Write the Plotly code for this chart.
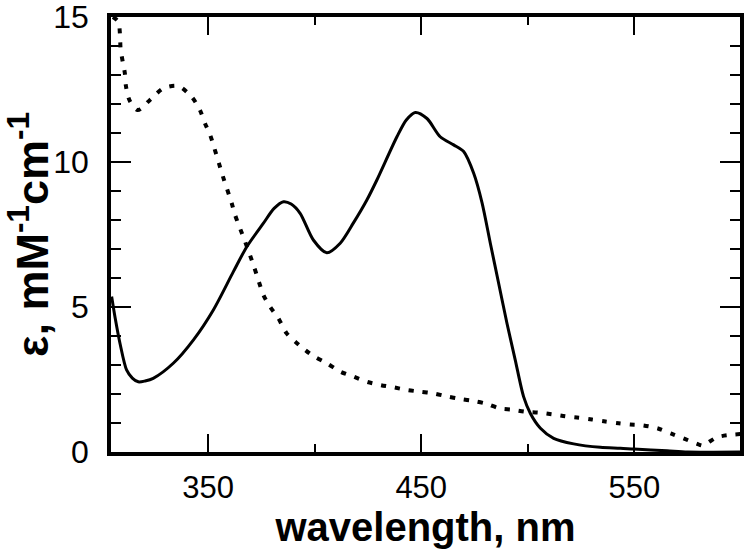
import plotly.graph_objects as go

# Solid curve (wavelength nm, epsilon mM^-1 cm^-1)
solid_wl = [304.8, 306.5, 308.7, 311.8, 314.5, 317.3, 320.5, 324.3, 333.7, 343.1,
            352.5, 361.9, 368.2, 376.0, 381.0, 385.4, 389.0, 393.2, 399.4, 405.7,
            412.0, 418.2, 424.5, 429.2, 438.6, 443.0, 447.2, 452.7, 458.9, 465.2,
            469.9, 474.6, 478.5, 482.4, 486.3, 490.2, 494.1, 498.0, 501.2, 505.9,
            512.1, 521.5, 534.0, 543.4, 549.7, 565.3, 575.0, 600.0]
solid_eps = [5.36, 4.6, 3.75, 2.83, 2.55, 2.42, 2.45, 2.54, 3.06, 3.86,
             4.9, 6.22, 7.08, 7.89, 8.4, 8.63, 8.55, 8.23, 7.31, 6.87,
             7.2, 7.9, 8.69, 9.38, 10.87, 11.45, 11.71, 11.5, 10.87, 10.59,
             10.36, 9.61, 8.6, 7.2, 5.82, 4.44, 3.17, 1.91, 1.33, 0.82,
             0.47, 0.28, 0.16, 0.13, 0.1, 0.04, 0.0, 0.0]

# Dashed curve
dash_wl = [305.4, 307.9, 308.7, 309.0, 310.0, 311.0, 311.5, 313.1, 317.0, 322.8,
           329.0, 336.0, 342.3, 346.2, 348.6, 351.0, 353.0, 357.0, 361.1, 362.7,
           367.4, 371.3, 373.6, 376.0, 379.1, 383.0, 386.9, 392.7, 399.4, 405.7,
           412.0, 418.2, 424.5, 430.8, 437.0, 443.3, 449.5, 455.8, 462.0, 468.3,
           474.6, 480.8, 486.8, 492.6, 498.8, 505.1, 511.4, 517.6, 523.9, 530.1,
           536.4, 542.6, 548.0, 552.8, 560.7, 567.0, 573.0, 579.4, 582.0, 584.0,
           588.8, 595.0, 600.0]
dash_eps = [15.0, 14.84, 14.4, 13.9, 13.46, 13.06, 12.62, 12.14, 11.79, 12.14,
            12.54, 12.62, 12.25, 11.79, 11.33, 10.93, 10.47, 9.5, 8.58, 8.17,
            7.25, 6.45, 5.93, 5.41, 5.01, 4.61, 4.09, 3.69, 3.31, 3.06,
            2.77, 2.6, 2.42, 2.31, 2.23, 2.14, 2.08, 2.02, 1.92, 1.83,
            1.76, 1.66, 1.5, 1.46, 1.39, 1.36, 1.3, 1.23, 1.18, 1.12,
            1.05, 0.99, 0.95, 0.93, 0.82, 0.64, 0.47, 0.28, 0.22, 0.3,
            0.51, 0.59, 0.62]

x_ticks = [350, 450, 550]
y_ticks = [0, 5, 10, 15]

fig = go.Figure()
fig.add_trace(go.Scatter(x=dash_wl, y=dash_eps, mode="lines",
                         line=dict(color="black", width=4, dash="5px,9px", shape="spline", smoothing=0.8),
                         showlegend=False))
fig.add_trace(go.Scatter(x=solid_wl, y=solid_eps, mode="lines",
                         line=dict(color="black", width=3, shape="spline", smoothing=0.8),
                         showlegend=False))

font_family = "Liberation Sans, Arial, Helvetica, sans-serif"
fig.update_layout(
    width=745, height=555,
    margin=dict(l=111, r=5, t=17, b=103, pad=0, autoexpand=False),
    paper_bgcolor="white", plot_bgcolor="white",
    font=dict(family=font_family, color="black", size=31),
)
fig.update_xaxes(
    automargin=False,
    range=[304.5, 599.5], tickvals=x_ticks, ticktext=[str(v) for v in x_ticks],
    ticks="inside", ticklen=18, tickwidth=2, tickcolor="black",
    minor=dict(ticks="inside", tickvals=[400, 500], ticklen=8, tickwidth=2, tickcolor="black"),
    showline=True, linewidth=3.5, linecolor="black", mirror="ticks",
    showgrid=False, zeroline=False,
    tickfont=dict(size=31), ticklabelstandoff=5, ticklabeloverflow="allow",
    title=dict(text="wavelength, nm", font=dict(size=40, weight="bold"), standoff=7),
)
fig.update_yaxes(
    automargin=False,
    range=[0, 15], tickvals=y_ticks, ticktext=[str(v) for v in y_ticks],
    ticks="inside", ticklen=20, tickwidth=2, tickcolor="black",
    minor=dict(ticks="inside", dtick=1, ticklen=10, tickwidth=2, tickcolor="black"),
    showline=True, linewidth=3.5, linecolor="black", mirror="ticks",
    showgrid=False, zeroline=False,
    tickfont=dict(size=32), ticklabelstandoff=12, ticklabeloverflow="allow",
    title=dict(text="ε, mM<sup>-1</sup>cm<sup>-1</sup>", font=dict(size=45, weight="bold"), standoff=4),
)

# remove the default 8px page margin so the figure sits at the window's top-left corner
fig.write_html("out.html", config={"displayModeBar": False},
               post_script="document.body.style.margin='0';")
